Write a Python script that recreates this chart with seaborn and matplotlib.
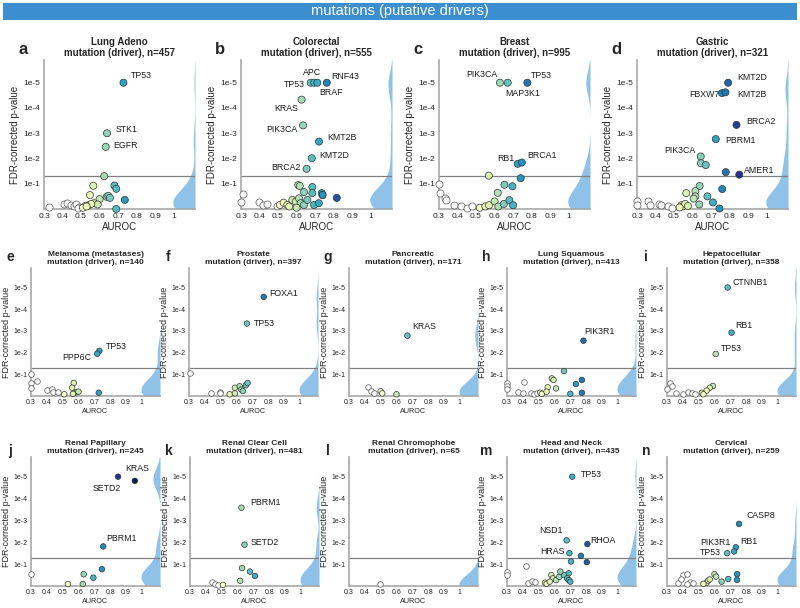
import numpy as np
import matplotlib
matplotlib.use("Agg")
import matplotlib.pyplot as plt
import matplotlib.colors as mcolors
from matplotlib.patches import Rectangle
import seaborn as sns

sns.set_style("white")
plt.rcParams["font.family"] = ["Liberation Sans", "DejaVu Sans"]

# panel headers
panel_letters = list("abcdefghijklmn")
cancer_types = ["Lung Adeno", "Colorectal", "Breast", "Gastric",
                "Melanoma (metastases)", "Prostate", "Pancreatic", "Lung Squamous", "Hepatocellular",
                "Renal Papillary", "Renal Clear Cell", "Renal Chromophobe", "Head and Neck", "Cervical"]
n_samples = [457, 555, 995, 321, 140, 397, 171, 413, 358, 245, 481, 65, 435, 259]

# AUROC and -log10(FDR p) per gene; the first len(x_gene) entries are the labelled genes
a_gene = ["TP53", "STK1", "EGFR"]
a_auroc = [0.729, 0.64, 0.633, 0.625, 0.566, 0.68, 0.69, 0.548, 0.638, 0.647, 0.656, 0.60, 0.736, 0.57,
           0.59, 0.54, 0.555, 0.525, 0.51, 0.53, 0.69, 0.325, 0.41, 0.425, 0.445, 0.46, 0.475, 0.49, 0.485]
a_nlp = [5.0, 3.0, 2.46, 1.3, 0.92, 0.93, 0.8, 0.55, 0.48, 0.52, 0.44, 0.39, 0.36, 0.23,
         0.18, 0.15, 0.2, 0.13, 0.05, 0.1, 0.0, 0.06, 0.18, 0.22, 0.17, 0.13, 0.18, 0.09, 0.04]

b_gene = ["TP53", "APC", "BRAF", "RNF43", "KRAS", "PIK3CA", "KMT2B", "KMT2D", "BRCA2"]
b_auroc = [0.676, 0.695, 0.712, 0.763, 0.627, 0.635, 0.721, 0.682, 0.654,
           0.609, 0.617, 0.64, 0.685, 0.685, 0.736, 0.74, 0.817, 0.311, 0.302, 0.396, 0.42, 0.44,
           0.495, 0.51, 0.53, 0.55, 0.577, 0.595, 0.613, 0.622, 0.64, 0.658, 0.694, 0.72, 0.74, 0.56, 0.6]
b_nlp = [5.0, 5.0, 5.0, 5.0, 4.33, 3.31, 2.67, 2.01, 1.59,
         0.95, 0.91, 0.67, 0.87, 0.63, 0.63, 0.55, 0.44, 0.6, 0.29, 0.29, 0.16, 0.2,
         0.1, 0.16, 0.25, 0.16, 0.36, 0.29, 0.42, 0.23, 0.16, 0.36, 0.16, 0.23, 0.56, 0.1, 0.05]

c_gene = ["PIK3CA", "MAP3K1", "TP53", "RB1", "BRCA1"]
c_auroc = [0.629, 0.671, 0.777, 0.725, 0.747, 0.569, 0.741, 0.653, 0.696, 0.617,
           0.30, 0.303, 0.33, 0.34, 0.38, 0.42, 0.45, 0.48,
           0.52, 0.55, 0.57, 0.6, 0.62, 0.65, 0.68, 0.7]
c_nlp = [5.0, 5.0, 5.0, 1.79, 1.84, 1.32, 1.22, 0.96, 0.9, 0.64,
         0.98, 0.62, 0.45, 0.35, 0.15, 0.1, 0.05, 0.12,
         0.05, 0.1, 0.15, 0.3, 0.1, 0.2, 0.35, 0.15]

d_gene = ["KMT2D", "FBXW7", "KMT2B", "BRCA2", "PBRM1", "PIK3CA", "AMER1"]
d_auroc = [0.792, 0.759, 0.777, 0.837, 0.725, 0.644, 0.852,
           0.645, 0.671, 0.779, 0.638, 0.76, 0.566, 0.615, 0.615, 0.68, 0.606, 0.636, 0.71, 0.745,
           0.54, 0.545, 0.56, 0.575, 0.53, 0.3, 0.3, 0.36, 0.37, 0.42, 0.43, 0.47, 0.49]
d_nlp = [5.0, 4.59, 4.62, 3.33, 2.77, 2.08, 1.36,
         1.81, 1.74, 1.46, 0.91, 0.79, 0.63, 0.71, 0.5, 0.5, 0.41, 0.18, 0.26, 0.02,
         0.15, 0.1, 0.2, 0.12, 0.06, 0.3, 0.16, 0.3, 0.16, 0.2, 0.15, 0.1, 0.03]

e_gene = ["TP53", "PPP6C"]
e_auroc = [0.732, 0.718, 0.728, 0.3, 0.3, 0.3, 0.335, 0.4, 0.43, 0.44, 0.47,
           0.51, 0.57, 0.56, 0.575, 0.59, 0.6, 0.565]
e_nlp = [2.08, 1.95, 0.15, 1.0, 0.58, 0.38, 0.69, 0.28, 0.3, 0.2, 0.18,
         0.08, 0.6, 0.38, 0.15, 0.18, 0.2, 0.1]

f_gene = ["FOXA1", "TP53"]
f_auroc = [0.772, 0.666, 0.306, 0.436, 0.494, 0.498, 0.557, 0.59, 0.59, 0.62, 0.63, 0.64, 0.66, 0.67]
f_nlp = [4.57, 3.34, 1.08, 0.15, 0.18, 0.12, 0.08, 0.12, 0.38, 0.45, 0.3, 0.23, 0.5, 0.6]

g_gene = ["KRAS"]
g_auroc = [0.669, 0.42, 0.44, 0.46, 0.5, 0.51, 0.6]
g_nlp = [2.78, 0.4, 0.25, 0.15, 0.22, 0.12, 0.08]

h_gene = ["PIK3R1"]
h_auroc = [0.783, 0.66, 0.583, 0.594, 0.735, 0.773, 0.557, 0.61, 0.773, 0.7, 0.51, 0.52, 0.55,
           0.3, 0.3, 0.3, 0.408, 0.37, 0.4, 0.45, 0.47, 0.49]
h_nlp = [2.55, 1.15, 0.81, 0.74, 0.55, 0.74, 0.4, 0.35, 0.15, 0.1, 0.15, 0.1, 0.2,
         0.6, 0.45, 0.3, 0.65, 0.2, 0.15, 0.15, 0.1, 0.12]

i_gene = ["CTNNB1", "RB1", "TP53"]
i_auroc = [0.683, 0.708, 0.608, 0.59, 0.57, 0.55, 0.52, 0.53,
           0.3, 0.32, 0.33, 0.36, 0.4, 0.43, 0.46, 0.48]
i_nlp = [5.0, 2.92, 1.94, 0.46, 0.38, 0.25, 0.15, 0.08,
         0.3, 0.6, 0.45, 0.15, 0.1, 0.2, 0.15, 0.1]

j_gene = ["SETD2", "KRAS", "PBRM1"]
j_auroc = [0.85, 0.956, 0.756, 0.748, 0.633, 0.694, 0.627, 0.533, 0.3]
j_nlp = [5.0, 4.81, 1.81, 0.77, 0.54, 0.38, 0.09, 0.09, 0.55]

k_gene = ["PBRM1", "SETD2"]
k_auroc = [0.625, 0.644, 0.629, 0.679, 0.71, 0.617, 0.44, 0.46, 0.48, 0.508]
k_nlp = [3.58, 1.89, 0.82, 0.66, 0.46, 0.24, 0.2, 0.09, 0.05, 0.05]

l_gene = []
l_auroc = [0.494]
l_nlp = [0.08]

m_gene = ["TP53", "NSD1", "RHOA", "HRAS"]
m_auroc = [0.712, 0.677, 0.808, 0.694, 0.767, 0.704, 0.804, 0.417, 0.3, 0.3, 0.43, 0.46, 0.48,
           0.58, 0.59, 0.61, 0.63, 0.66, 0.69, 0.68, 0.69, 0.7, 0.54, 0.55, 0.57, 0.637]
m_nlp = [5.0, 2.09, 1.92, 1.5, 1.38, 1.12, 1.09, 0.92, 0.66, 0.51, 0.15, 0.25, 0.2,
         0.5, 0.35, 0.27, 0.42, 0.5, 0.58, 0.35, 0.27, 0.2, 0.15, 0.1, 0.2, 0.66]

n_gene = ["CASP8", "RB1", "PIK3R1", "TP53"]
n_auroc = [0.755, 0.735, 0.724, 0.68, 0.743, 0.742, 0.687, 0.6, 0.61, 0.645, 0.55, 0.56, 0.53, 0.57,
           0.371, 0.403, 0.428, 0.39, 0.445, 0.466, 0.424]
n_nlp = [2.84, 1.77, 1.58, 1.5, 0.54, 0.28, 0.32, 0.54, 0.43, 0.2, 0.15, 0.25, 0.1, 0.3,
         0.14, 0.5, 0.56, 0.32, 0.18, 0.14, 0.08]

x_ticks = [0.3, 0.4, 0.5, 0.6, 0.7, 0.8, 0.9, 1.0]
x_ticklabels = ["0.3", "0.4", "0.5", "0.6", "0.7", "0.8", "0.9", "1"]
y_ticks = [1, 2, 3, 4, 5]
y_ticklabels = ["1e-1", "1e-2", "1e-3", "1e-4", "1e-5"]
fdr_cut = -np.log10(0.05)

# label offsets in pixels (dx, dy, ha)
label_offsets = {
    ("a", "TP53"): (7, 7, "left"), ("a", "STK1"): (9, 4, "left"), ("a", "EGFR"): (8, 1, "left"),
    ("b", "TP53"): (-6, -2, "right"), ("b", "APC"): (-2, 10, "center"), ("b", "BRAF"): (2, -10, "left"),
    ("b", "RNF43"): (4, 6, "left"), ("b", "KRAS"): (-3, -9, "right"), ("b", "PIK3CA"): (-6, -4, "right"),
    ("b", "KMT2B"): (8, 4, "left"), ("b", "KMT2D"): (7, 3, "left"), ("b", "BRCA2"): (-6, 1, "right"),
    ("c", "PIK3CA"): (-2, 8, "right"), ("c", "MAP3K1"): (-2, -11, "left"), ("c", "TP53"): (3, 7, "left"),
    ("c", "RB1"): (-3, 5, "right"), ("c", "BRCA1"): (5, 7, "left"),
    ("d", "KMT2D"): (9, 5, "left"), ("d", "FBXW7"): (-3, -1, "right"), ("d", "KMT2B"): (12, -2, "left"),
    ("d", "BRCA2"): (10, 3, "left"), ("d", "PBRM1"): (10, -1, "left"), ("d", "PIK3CA"): (-5, 6, "right"),
    ("d", "AMER1"): (5, 4, "left"),
    ("e", "TP53"): (6, 4, "left"), ("e", "PPP6C"): (-6, -4, "right"),
    ("f", "FOXA1"): (6, 3, "left"), ("f", "TP53"): (7, 0, "left"),
    ("g", "KRAS"): (5, 9, "left"),
    ("h", "PIK3R1"): (1, 9, "left"),
    ("i", "CTNNB1"): (5, 5, "left"), ("i", "RB1"): (4, 7, "left"), ("i", "TP53"): (5, 5, "left"),
    ("j", "SETD2"): (3, -12, "right"), ("j", "KRAS"): (2, 12, "center"), ("j", "PBRM1"): (3, 8, "left"),
    ("k", "PBRM1"): (9, 5, "left"), ("k", "SETD2"): (6, 2, "left"),
    ("m", "TP53"): (9, 2, "left"), ("m", "NSD1"): (-4, 10, "right"), ("m", "RHOA"): (3, 4, "left"),
    ("m", "HRAS"): (-5, 2, "right"),
    ("n", "CASP8"): (7, 8, "left"), ("n", "RB1"): (4, 6, "left"), ("n", "PIK3R1"): (-3, 9, "right"),
    ("n", "TP53"): (-6, 1, "right"),
}

panels = [
    (a_gene, a_auroc, a_nlp), (b_gene, b_auroc, b_nlp), (c_gene, c_auroc, c_nlp), (d_gene, d_auroc, d_nlp),
    (e_gene, e_auroc, e_nlp), (f_gene, f_auroc, f_nlp), (g_gene, g_auroc, g_nlp), (h_gene, h_auroc, h_nlp),
    (i_gene, i_auroc, i_nlp), (j_gene, j_auroc, j_nlp), (k_gene, k_auroc, k_nlp), (l_gene, l_auroc, l_nlp),
    (m_gene, m_auroc, m_nlp), (n_gene, n_auroc, n_nlp),
]

# layout in pixels
W, H = 800, 608
row_lefts = [[44, 241, 439, 637], [31, 189, 349, 507, 667], [31, 190, 349, 507, 667]]
row_width = [151, 129, 129]
row_top = [60, 268, 457]
row_bottom = [209, 396, 586]
XMAX, YMAX = 1.115, 5.9

fig = plt.figure(figsize=(8, 6.08), dpi=100)

# header bar
fig.add_artist(Rectangle((3 / W, 1 - 20 / H), 794 / W, 17 / H, transform=fig.transFigure,
                         facecolor="#3b8fd0", edgecolor="none"))
fig.text(0.5, 1 - 11.5 / H, "mutations (putative drivers)", color="white", fontsize=10.5,
         ha="center", va="center")

norm = mcolors.Normalize(0.5, 0.9)
grid = np.linspace(0, YMAX, 300)

idx = 0
for r in range(3):
    big = r == 0
    for left in row_lefts[r]:
        genes, auroc, nlp = panels[idx]
        letter = panel_letters[idx]
        auroc = np.array(auroc)
        nlp = np.array(nlp)

        ax = fig.add_axes([left / W, 1 - row_bottom[r] / H, row_width[r] / W,
                           (row_bottom[r] - row_top[r]) / H])

        # density of -log10 p along the right edge
        dens = np.exp(-0.5 * ((grid[:, None] - nlp[None, :]) / 0.45) ** 2).sum(axis=1)
        dens = dens / dens.max() * 0.12
        ax.fill_betweenx(grid, XMAX - dens, XMAX, color="#8fc2e8", lw=0, zorder=1)
        ax.axhline(fdr_cut, color="#808080", lw=0.9, zorder=2)

        ms = 26 if big else 16
        low = auroc < 0.5
        if low.any():
            sns.scatterplot(x=auroc[low], y=nlp[low], color="white", edgecolor="#555555",
                            linewidth=0.5, s=ms, ax=ax, zorder=3, clip_on=False, legend=False)
        if (~low).any():
            sns.scatterplot(x=auroc[~low], y=nlp[~low], hue=auroc[~low], palette="YlGnBu",
                            hue_norm=norm, edgecolor="#333333", linewidth=0.5, s=ms, ax=ax,
                            zorder=4, clip_on=False, legend=False)

        for gi, gene in enumerate(genes):
            dx, dy, ha = label_offsets[(letter, gene)]
            ax.annotate(gene, (auroc[gi], nlp[gi]), xytext=(dx, dy), textcoords="offset pixels",
                        ha=ha, va="center", fontsize=6.3, color="#1a1a1a")

        ax.set_xlim(0.3, XMAX)
        ax.set_ylim(0, YMAX)
        ax.set_xticks(x_ticks)
        ax.set_xticklabels(x_ticklabels)
        ax.set_yticks(y_ticks)
        ax.set_yticklabels(y_ticklabels)
        ax.tick_params(length=0, labelsize=6 if big else 5, colors="#262626",
                       pad=3 if big else 2.5)
        ax.set_xlabel("AUROC", fontsize=7 if big else 5.2, labelpad=1.5 if big else 1, color="#262626")
        ax.set_ylabel("FDR-corrected p-value", fontsize=7 if big else 6.5, labelpad=2, color="#262626")
        for side in ["top", "right"]:
            ax.spines[side].set_visible(False)
        for side in ["left", "bottom"]:
            ax.spines[side].set_color("#a8a8a8")
            ax.spines[side].set_linewidth(1.2)

        ax.set_title(f"{cancer_types[idx]}\nmutation (driver), n={n_samples[idx]}",
                     fontsize=7 if big else 6, fontweight="bold", pad=3, linespacing=1.15)
        letter_y = [49, 257, 451][r]
        fig.text((left - 21) / W, 1 - letter_y / H, letter, fontsize=12 if big else 10,
                 fontweight="bold", ha="center", va="center")
        idx += 1

fig.savefig("out.png", dpi=100)
